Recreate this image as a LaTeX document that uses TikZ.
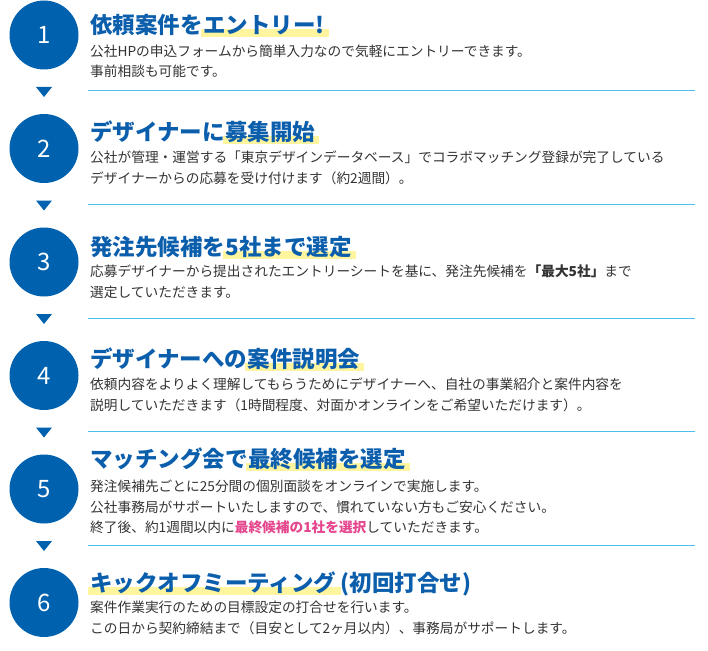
\documentclass[tikz,border=0pt]{standalone}
\usepackage{fontspec}
\setmainfont{Noto Sans CJK JP}
\usetikzlibrary{positioning,backgrounds}
\definecolor{stepblue}{HTML}{0062AE}
\definecolor{titleblue}{HTML}{0B5EAB}
\definecolor{rulecyan}{HTML}{4DBFEA}
\definecolor{hiyellow}{HTML}{FFF59E}
\definecolor{bodygray}{HTML}{333333}
\definecolor{pickpink}{HTML}{E5468D}
\tikzset{
  numcircle/.style={circle,fill=stepblue,text=white,minimum size=69pt,inner sep=0pt,
    font=\fontsize{24}{24}\selectfont},
  titletext/.style={anchor=base west,inner sep=0pt,text=titleblue,
    font=\fontsize{22.5}{24}\selectfont\bfseries},
  bodytext/.style={anchor=north west,inner sep=0pt,align=left,text=bodygray,
    font=\fontsize{13.7}{20.5}\selectfont},
  hilite/.style={fill=hiyellow}
}
\begin{document}
\begin{tikzpicture}[x=1pt,y=-1pt]
\useasboundingbox (0,0) rectangle (708,650);
%%Kreise
\foreach \n in {1,...,6}{
  \pgfmathsetmacro{\cy}{35+113.5*(\n-1)}
  \node[numcircle] (c\n) at (44,\cy) {\n};
}
%%Dreiecke und Linien
\foreach \n in {1,...,5}{
  \pgfmathsetmacro{\ty}{87+113.5*(\n-1)}
  \pgfmathsetmacro{\ly}{91+113.5*(\n-1)}
  \fill[stepblue] (36,\ty) -- (52,\ty) -- (44,\ty+10) -- cycle;
  \draw[rulecyan,line width=1pt] (88,\ly) -- (695,\ly);
}
%%Schritt 1
\node[titletext] (t1a) at (90,33.5) {依頼案件を};
\node[titletext] (t1b) at (t1a.base east) {エントリー!};
\node[bodytext] (b1) at (90,44.5) {公社HPの申込フォームから簡単入力なので気軽にエントリーできます。\\事前相談も可能です。};
%%Schritt 2
\node[titletext] (t2a) at (90,140) {デザイナーに};
\node[titletext] (t2b) at (t2a.base east) {募集開始};
\node[bodytext] (b2) at (90,151) {公社が管理・運営する「東京デザインデータベース」でコラボマッチング登録が完了している\\デザイナーからの応募を受け付けます（約2週間）。};
%%Schritt 3
\node[titletext] (t3a) at (90,255) {発注先候補を};
\node[titletext] (t3b) at (t3a.base east) {5社まで選定};
\node[bodytext] (b3) at (90,265) {応募デザイナーから提出されたエントリーシートを基に、発注先候補を{\bfseries「最大5社」}まで\\選定していただきます。};
%%Schritt 4
\node[titletext] (t4a) at (90,367) {デザイナーへの};
\node[titletext] (t4b) at (t4a.base east) {案件説明会};
\node[bodytext] (b4) at (90,378) {依頼内容をよりよく理解してもらうためにデザイナーへ、自社の事業紹介と案件内容を\\説明していただきます（1時間程度、対面かオンラインをご希望いただけます）。};
%%Schritt 5
\node[titletext] (t5a) at (90,467) {マッチング会で};
\node[titletext] (t5b) at (t5a.base east) {最終候補を選定};
\node[bodytext] (b5) at (90,480) {発注候補先ごとに25分間の個別面談をオンラインで実施します。\\公社事務局がサポートいたしますので、慣れていない方もご安心ください。\\終了後、約1週間以内に{\bfseries\color{pickpink}最終候補の1社を選択}していただきます。};
%%Schritt 6
\node[titletext] (t6a) at (90,591) {キックオフミーティング};
\node[titletext] (t6b) at (t6a.base east) {\hspace{4pt}(初回打合せ)};
\node[bodytext] (b6) at (90,601) {案件作業実行のための目標設定の打合せを行います。\\この日から契約締結まで（目安として2ヶ月以内）、事務局がサポートします。};
%%Markierungen
\begin{pgfonlayer}{background}
\foreach \h in {t1b,t2b,t3b,t4b,t5b,t6a}{
  \fill[hilite] ([xshift=-2pt,yshift=-3.5pt]\h.base west) rectangle ([xshift=4pt,yshift=4.5pt]\h.base east);
}
\end{pgfonlayer}
\end{tikzpicture}
\end{document}
